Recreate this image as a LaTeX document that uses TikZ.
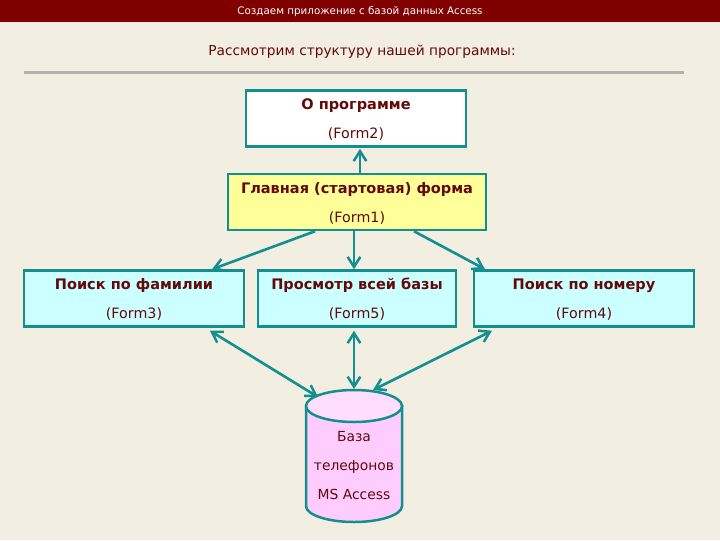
\documentclass[tikz,border=0pt]{standalone}
\usepackage{fontspec}
\setmainfont{DejaVu Sans}
\usetikzlibrary{arrows.meta}
\newdimen\px \px=0.75pt
\newcommand{\headline}[1]{\rule{0pt}{10pt}{\fontsize{10.9pt}{21.75pt}\selectfont\bfseries #1}}
\definecolor{pagebg}{HTML}{F2EEE1}
\definecolor{barred}{HTML}{800000}
\definecolor{rulegrey}{HTML}{B2B2AA}
\definecolor{tealline}{HTML}{138F8F}
\definecolor{inktext}{HTML}{640808}
\definecolor{cyanfill}{HTML}{CCFFFF}
\definecolor{yellowfill}{HTML}{FFFF99}
\definecolor{pinkfill}{HTML}{FFCCFF}
\definecolor{pinktop}{HTML}{FFDDFF}
\tikzset{
  formbox/.style={draw=tealline,line width=2.5\px,inner sep=0pt,text=inktext,align=center,
    minimum height=56\px,font=\fontsize{10.7pt}{21.75pt}\selectfont},
  link/.style={draw=tealline,line width=2.6\px,-{Straight Barb[length=7.5pt,width=9.5pt,line width=1.9pt]}},
  duplex/.style={draw=tealline,line width=2.6\px,{Straight Barb[length=7.5pt,width=9.5pt,line width=1.9pt]}-{Straight Barb[length=7.5pt,width=9.5pt,line width=1.9pt]}},
}
\begin{document}
\begin{tikzpicture}[x=0.75pt,y=-0.75pt]
\useasboundingbox (0,0) rectangle (720,540);
\fill[pagebg] (0,0) rectangle (720,540);
\fill[barred] (0,0) rectangle (720,22);
\node[text=white,inner sep=0pt,font=\fontsize{7.75pt}{9pt}\selectfont] (title) at (360,11.5) {Создаем приложение с базой данных Access};
\node[text=inktext,inner sep=0pt,font=\fontsize{10.3pt}{12pt}\selectfont] (subtitle) at (362,51.5) {Рассмотрим структуру нашей программы:};
\fill[rulegrey] (24,70.5) rectangle (684,73.5);

\node[formbox,fill=white,minimum width=220\px] (f2) at (356,118.5) {\headline{О программе}\\(Form2)};
\node[formbox,fill=yellowfill,minimum width=258\px] (f1) at (357,202) {\headline{Главная (стартовая) форма}\\(Form1)};
\node[formbox,fill=cyanfill,minimum width=220\px] (f3) at (134,298.5) {\headline{Поиск по фамилии}\\(Form3)};
\node[formbox,fill=cyanfill,minimum width=198\px] (f5) at (357,298.5) {\headline{Просмотр всей базы}\\(Form5)};
\node[formbox,fill=cyanfill,minimum width=220\px] (f4) at (584,298.5) {\headline{Поиск по номеру}\\(Form4)};

\filldraw[draw=tealline,line width=2.5\px,fill=pinkfill]
  (306,406) -- (306,506) arc[start angle=180,end angle=360,x radius=36pt,y radius=12pt]
  -- (402,406) -- cycle;
\filldraw[draw=tealline,line width=2.5\px,fill=pinktop] (354,406) ellipse[x radius=36pt,y radius=12pt];
\node[text=inktext,inner sep=0pt,align=center,font=\fontsize{10.4pt}{21.5pt}\selectfont] (db) at (354,465.5) {База\\телефонов\\MS Access};
\coordinate (dbleft) at (318,397);
\coordinate (dbtop) at (354,389);
\coordinate (dbright) at (373,390);

\draw[link] ([xshift=3\px]f1.north) -- ([xshift=4\px,yshift=-1\px]f2.south);
\draw[link] ([xshift=-42\px]f1.south) -- ([xshift=78\px]f3.north);
\draw[link] ([xshift=-3\px]f1.south) -- ([xshift=-3\px]f5.north);
\draw[link] ([xshift=57\px]f1.south) -- ([xshift=-99\px]f4.north);
\draw[duplex] ([xshift=76\px,yshift=-3\px]f3.south) -- (dbleft);
\draw[duplex] ([xshift=-3\px,yshift=-3\px]f5.south) -- (dbtop);
\draw[duplex] ([xshift=-92\px,yshift=-3\px]f4.south) -- (dbright);
\end{tikzpicture}
\end{document}
